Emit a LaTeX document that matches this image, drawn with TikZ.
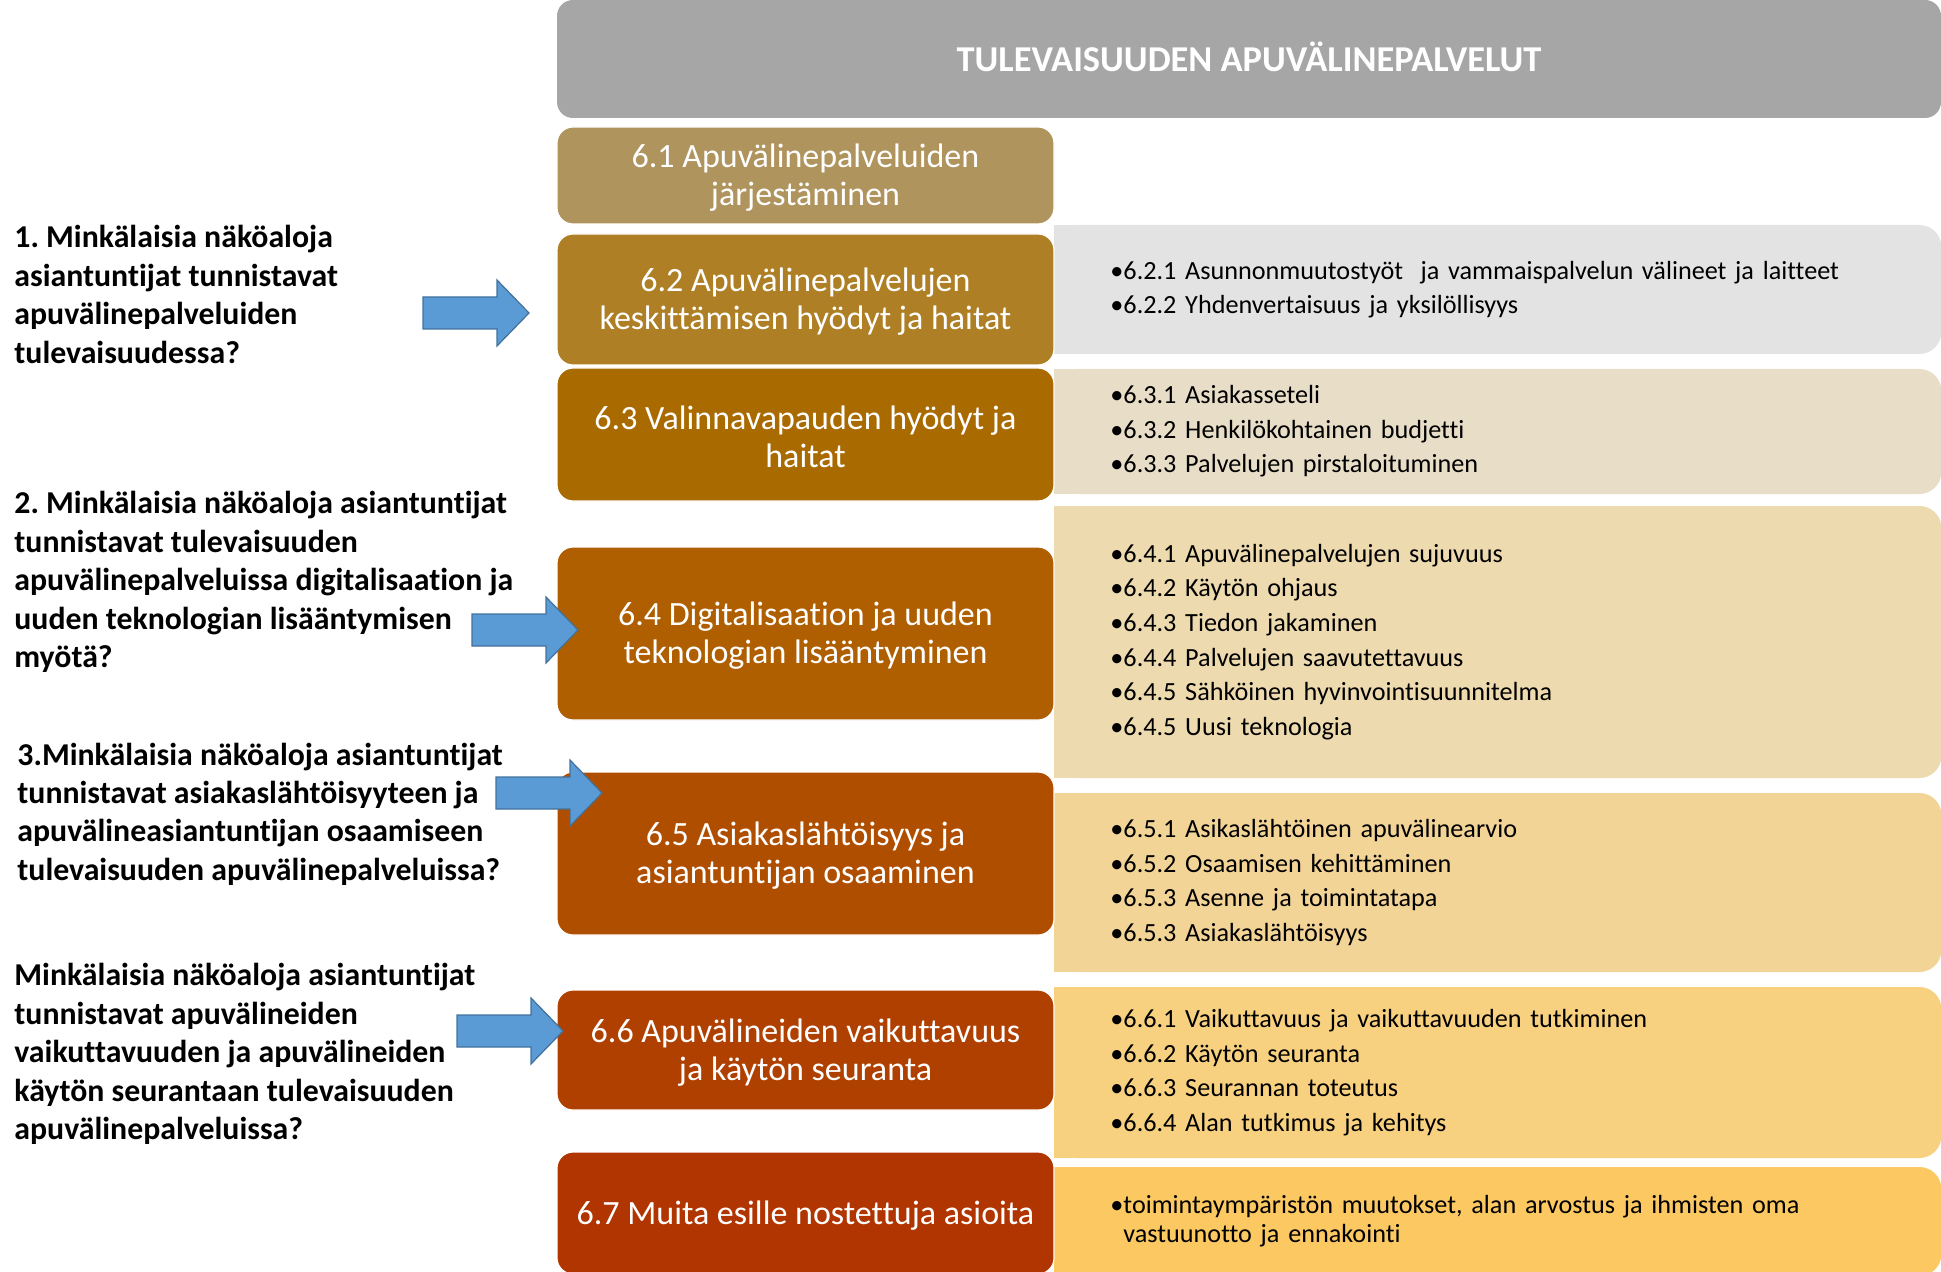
\documentclass[tikz,border=0pt]{standalone}
\usepackage{fontspec}
\setmainfont{Carlito}[Ligatures=NoCommon]
\frenchspacing
\definecolor{titlegray}{HTML}{A6A6A6}
\definecolor{c61}{HTML}{B0945E}
\definecolor{c62}{HTML}{AE7F25}
\definecolor{c63}{HTML}{A96A00}
\definecolor{c64}{HTML}{AF5E00}
\definecolor{c65}{HTML}{B04E00}
\definecolor{c66}{HTML}{AF4000}
\definecolor{c67}{HTML}{B03500}
\definecolor{r62}{HTML}{E3E3E3}
\definecolor{r63}{HTML}{E8DDC7}
\definecolor{r64}{HTML}{EDDAAE}
\definecolor{r65}{HTML}{F3D497}
\definecolor{r66}{HTML}{F7D17F}
\definecolor{r67}{HTML}{FCC862}
\definecolor{arrowblue}{HTML}{5B9BD5}
\definecolor{arrowedge}{HTML}{41719C}

\begin{document}
\begin{tikzpicture}[x=0.5pt, y=-0.5pt,
  lbox/.style={rounded corners=8pt, draw=white, line width=0.6pt, text=white, align=center,
    minimum width=248.5pt, inner sep=0pt, font=\fontsize{17}{19}\selectfont},
  rbox/.style={rounded corners=11pt, anchor=west, align=left, text width=387.5pt,
    inner xsep=28pt, inner ysep=0pt, font=\fontsize{13.1}{17.3}\selectfont},
  question/.style={anchor=west, align=left, inner sep=0pt, font=\bfseries\fontsize{15.9}{19.2}\selectfont},
  blockarrow/.style={fill=arrowblue, draw=arrowedge, line width=0.6pt, line join=miter}]

\useasboundingbox (0,0) rectangle (1941,1272);

% title bar
\node[rounded corners=8pt, fill=titlegray, minimum width=692pt, minimum height=59pt, inner sep=0pt,
  text=white, font=\bfseries\fontsize{18.2}{20}\selectfont] (title) at (1249,59) {\raisebox{2pt}{TULEVAISUUDEN APUVÄLINEPALVELUT}};

% right-hand boxes with the sub-themes
\node[rbox, fill=r62, minimum height=64.5pt] (s62) at (1054,289.5)
  {•6.2.1 Asunnonmuutostyöt\ \ ja vammaispalvelun välineet ja laitteet\\
   •6.2.2 Yhdenvertaisuus ja yksilöllisyys};
\node[rbox, fill=r63, minimum height=62.5pt] (s63) at (1054,431.5)
  {•6.3.1 Asiakasseteli\\
   •6.3.2 Henkilökohtainen budjetti\\
   •6.3.3 Palvelujen pirstaloituminen};
\node[rbox, fill=r64, minimum height=136pt] (s64) at (1054,642)
  {•6.4.1 Apuvälinepalvelujen sujuvuus\\
   •6.4.2 Käytön ohjaus\\
   •6.4.3 Tiedon jakaminen\\
   •6.4.4 Palvelujen saavutettavuus\\
   •6.4.5 Sähköinen hyvinvointisuunnitelma\\
   •6.4.5 Uusi teknologia};
\node[rbox, fill=r65, minimum height=89.5pt] (s65) at (1054,882.5)
  {•6.5.1 Asikaslähtöinen apuvälinearvio\\
   •6.5.2 Osaamisen kehittäminen\\
   •6.5.3 Asenne ja toimintatapa\\
   •6.5.3 Asiakaslähtöisyys};
\node[rbox, fill=r66, minimum height=85.5pt] (s66) at (1054,1072.5)
  {•6.6.1 Vaikuttavuus ja vaikuttavuuden tutkiminen\\
   •6.6.2 Käytön seuranta\\
   •6.6.3 Seurannan toteutus\\
   •6.6.4 Alan tutkimus ja kehitys};
\node[rbox, fill=r67, minimum height=54.5pt, font=\fontsize{13.1}{14.5}\selectfont] (s67) at (1054,1221.5)
  {•toimintaympäristön muutokset, alan arvostus ja ihmisten oma\\
   \hphantom{•}vastuunotto ja ennakointi};
\foreach \s/\c in {s62/r62,s63/r63,s64/r64,s65/r65,s66/r66,s67/r67}
  \fill[\c] (\s.north west) rectangle ([xshift=15pt]\s.south west);

% main themes
\node[lbox, fill=c61, minimum height=48.5pt] (b61) at (805.5,175.5) {};
\node[lbox, fill=c62, minimum height=65.5pt] (b62) at (805.5,299.5) {};
\node[lbox, fill=c63, minimum height=66.5pt] (b63) at (805.5,434.5) {};
\node[lbox, fill=c64, minimum height=86.5pt] (b64) at (805.5,633.5) {};
\node[lbox, fill=c65, minimum height=81.5pt] (b65) at (805.5,853.5) {};
\node[lbox, fill=c66, minimum height=60pt] (b66) at (805.5,1050) {};
\node[lbox, fill=c67, minimum height=61pt] (b67) at (805.5,1213) {};
\begin{scope}[every node/.style={text=white, align=center, inner sep=0pt, font=\fontsize{17}{19}\selectfont}]
\node (l61) at ([yshift=-1.3pt]b61.center) {6.1 Apuvälinepalveluiden\\järjestäminen};
\node (l62) at ([yshift=-1.3pt]b62.center) {6.2 Apuvälinepalvelujen\\keskittämisen hyödyt ja haitat};
\node (l63) at ([yshift=-1.3pt]b63.center) {6.3 Valinnavapauden hyödyt ja\\haitat};
\node (l64) at ([yshift=-1.3pt]b64.center) {6.4 Digitalisaation ja uuden\\teknologian lisääntyminen};
\node (l65) at ([yshift=-1.3pt]b65.center) {6.5 Asiakaslähtöisyys ja\\asiantuntijan osaaminen};
\node (l66) at ([yshift=-1.3pt]b66.center) {6.6 Apuvälineiden vaikuttavuus\\ja käytön seuranta};
\node (l67) at ([yshift=-1.3pt]b67.center) {6.7 Muita esille nostettuja asioita};
\end{scope}

% research questions
\node[question] (q1) at (14,294.5) {1. Minkälaisia näköaloja\\asiantuntijat tunnistavat\\apuvälinepalveluiden\\tulevaisuudessa?};
\node[question] (q2) at (14,582) {2. Minkälaisia näköaloja asiantuntijat\\tunnistavat tulevaisuuden\\apuvälinepalveluissa digitalisaation ja\\uuden teknologian lisääntymisen\\myötä?};
\node[question] (q3) at (17,814) {3.Minkälaisia näköaloja asiantuntijat\\tunnistavat asiakaslähtöisyyteen ja\\apuvälineasiantuntijan osaamiseen\\tulevaisuuden apuvälinepalveluissa?};
\node[question] (q4) at (14,1054) {Minkälaisia näköaloja asiantuntijat\\tunnistavat apuvälineiden\\vaikuttavuuden ja apuvälineiden\\käytön seurantaan tulevaisuuden\\apuvälinepalveluissa?};

% block arrows
\coordinate (t1) at (529,313);
\coordinate (t2) at (578,630);
\coordinate (t3) at (602,793);
\coordinate (t4) at (563,1031);
\foreach \t in {t1,t2,t3,t4}
  \filldraw[blockarrow] (\t) -- ++(-32,33) -- ++(0,-17) -- ++(-74,0) -- ++(0,-32) -- ++(74,0) -- ++(0,-17) -- cycle;

\end{tikzpicture}
\end{document}
